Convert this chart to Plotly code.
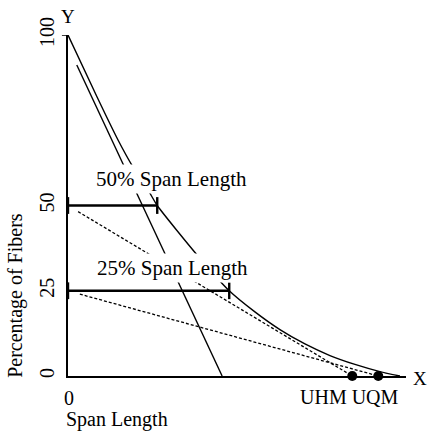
import plotly.graph_objects as go

# ---- data (x in arbitrary span-length units, y in percent of fibers) ----
curve_x = [0, 8.6, 14.8, 19.2, 24.0, 26.4, 38.2, 47.7, 55.3, 62.7, 70.1, 77.5, 84.9, 92.3, 98.2]
curve_y = [100, 81.8, 69.2, 61.3, 54.0, 50.0, 35.5, 25.0, 18.8, 13.6, 9.4, 6.0, 3.4, 1.3, 0]

tangent_x = [2.6, 45.6]
tangent_y = [91.2, 0]

uhm_line_x = [3.0, 84.1]
uhm_line_y = [48.2, 0]
uqm_line_x = [3.5, 91.8]
uqm_line_y = [24.0, 0]

bar50_x = [0, 26.4]
bar50_y = [50, 50]
bar25_x = [0, 47.7]
bar25_y = [25, 25]

dots_x = [84.1, 91.8]
dots_y = [0, 0]

y_tickvals = [0, 25, 50, 100]
y_ticktext = ["0", "25", "50", "100"]

FONT = "Liberation Serif"

fig = go.Figure()

fig.add_trace(go.Scatter(x=curve_x, y=curve_y, mode="lines",
                         line=dict(color="black", width=1.4, shape="spline", smoothing=0.6)))
fig.add_trace(go.Scatter(x=tangent_x, y=tangent_y, mode="lines",
                         line=dict(color="black", width=1.4)))
fig.add_trace(go.Scatter(x=uhm_line_x, y=uhm_line_y, mode="lines",
                         line=dict(color="black", width=1.3, dash="3px,2px")))
fig.add_trace(go.Scatter(x=uqm_line_x, y=uqm_line_y, mode="lines",
                         line=dict(color="black", width=1.3, dash="3px,2px")))
for bx, by in [(bar50_x, bar50_y), (bar25_x, bar25_y)]:
    fig.add_trace(go.Scatter(x=bx, y=by, mode="lines+markers", cliponaxis=False,
                             line=dict(color="black", width=2.6),
                             marker=dict(symbol="line-ns", size=12,
                                         line=dict(color="black", width=2.4))))
fig.add_trace(go.Scatter(x=dots_x, y=dots_y, mode="markers", cliponaxis=False,
                         marker=dict(color="black", size=10)))

# tick mark at 100
fig.add_shape(type="line", xref="paper", yref="y", x0=-0.018, x1=0, y0=100, y1=100,
              line=dict(color="black", width=1.5))

ann = dict(showarrow=False, xanchor="center", yanchor="middle",
           font=dict(family=FONT, size=20, color="black"))
big = dict(ann, font=dict(family=FONT, size=21, color="black"))
fig.add_annotation(x=30.6, y=57.8, text="50% Span Length", bgcolor="white", borderpad=2, **big)
fig.add_annotation(x=30.9, y=31.8, text="25% Span Length", bgcolor="white", borderpad=2, **big)
pann = dict(ann, xref="paper", yref="paper")
small = dict(pann, font=dict(family=FONT, size=19, color="black"))
fig.add_annotation(x=0.0, y=1.0557, text="Y", **small)
fig.add_annotation(x=1.0414, y=-0.0059, text="X", **small)
fig.add_annotation(x=0.0044, y=-0.0645, text="0", **pann)
fig.add_annotation(x=0.145, y=-0.129, text="Span Length", **pann)
fig.add_annotation(x=0.8314, y=-0.0616, text="UHM UQM", **pann)
fig.add_annotation(x=-0.1574, y=0.2375, text="Percentage of Fibers", textangle=-90, **pann)

fig.update_layout(
    width=429, height=434,
    margin=dict(l=68, r=23, t=35, b=58),
    paper_bgcolor="white", plot_bgcolor="white",
    showlegend=False,
    font=dict(family=FONT, size=20, color="black"),
)
fig.update_xaxes(range=[0, 100], showline=True, linecolor="black", linewidth=1.5,
                 showgrid=False, zeroline=False, showticklabels=False, ticks="")
fig.update_yaxes(range=[0, 100], showline=True, linecolor="black", linewidth=1.5,
                 showgrid=False, zeroline=False, tickvals=y_tickvals, ticktext=y_ticktext,
                 tickangle=-90, ticks="", ticklabelstandoff=4,
                 tickfont=dict(family=FONT, size=20, color="black"))

fig.write_html("out.html", config={"displayModeBar": False},
               post_script="document.body.style.margin='0';")
